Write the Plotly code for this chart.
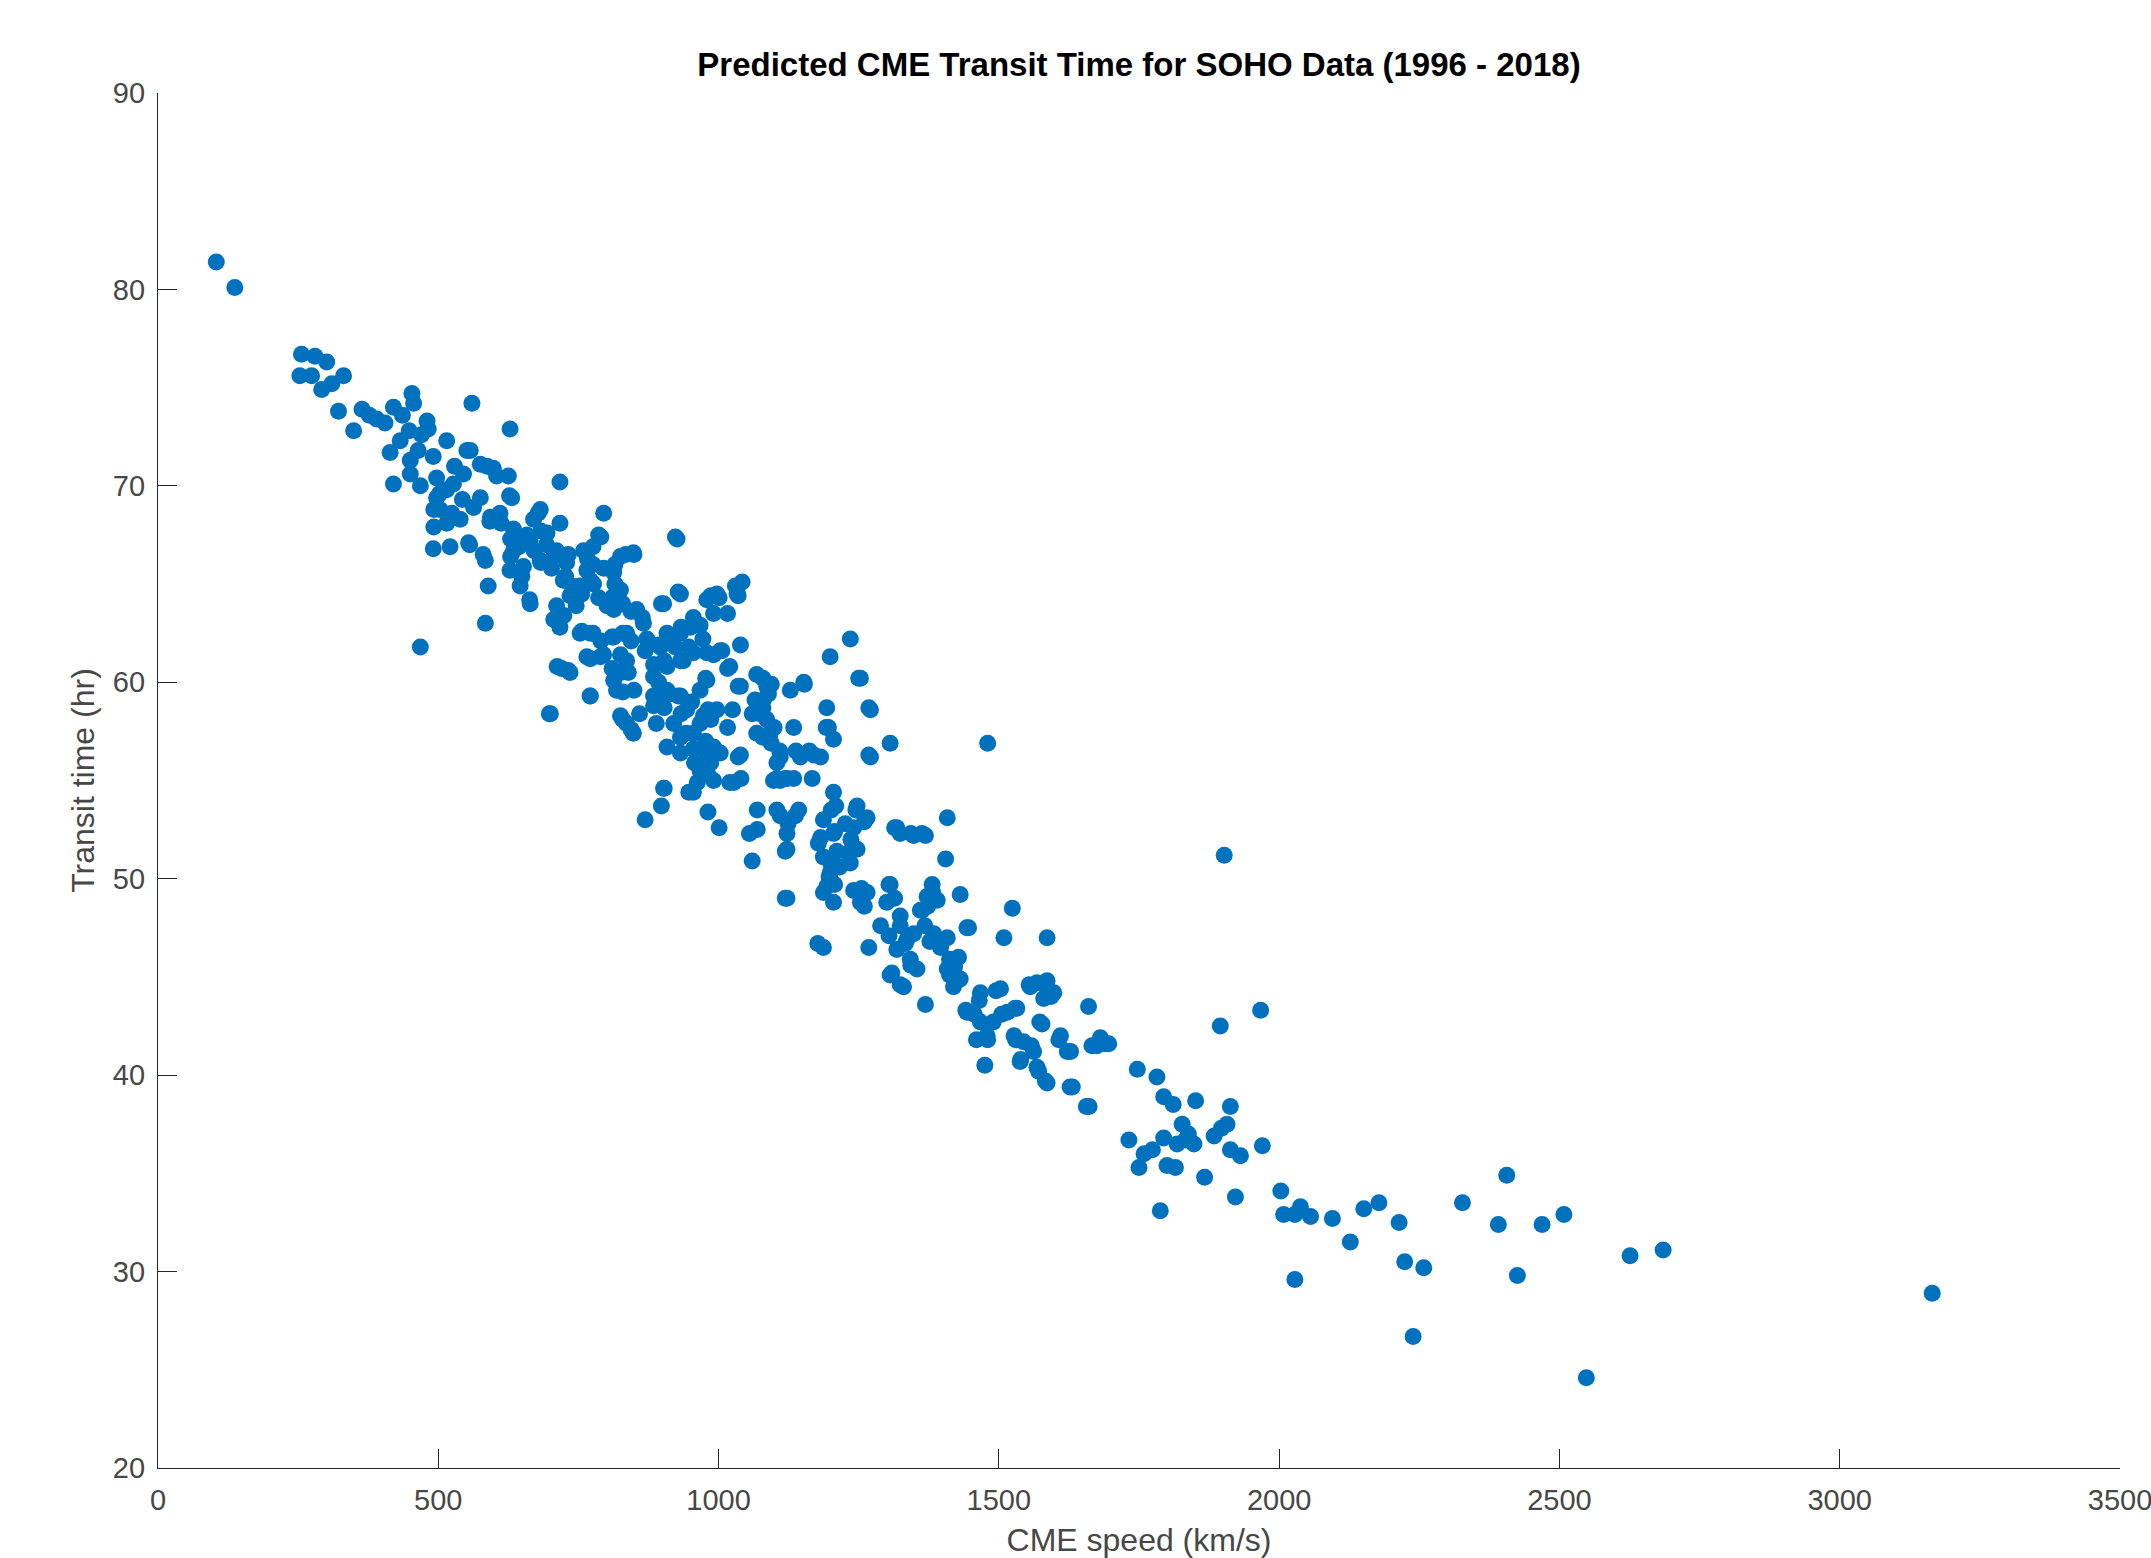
import plotly.graph_objects as go

# ---- data (CME speed km/s, transit time hr) ----
speed_g1 = [104, 137, 256, 280, 301, 253, 274, 292, 331, 322,
            349, 364, 390, 420, 453, 456, 480, 482, 414, 432,
            450, 464, 491, 420, 450, 468, 497, 497, 468, 436,
            405, 377, 310, 448, 470]
time_g1 = [81.4, 80.1, 76.7, 76.6, 76.3, 75.6, 75.6, 74.9, 75.6, 73.8,
           72.8, 73.9, 73.4, 74.0, 74.7, 74.2, 73.3, 72.9, 71.7, 72.3,
           71.3, 71.8, 71.5, 70.1, 70.6, 70.0, 70.4, 69.4, 61.8, 73.6,
           73.2, 73.6, 75.2, 72.8, 72.6]

speed_g2 = [515, 557, 560, 628, 515, 527, 545, 575, 598, 625,
            587, 631, 503, 515, 539, 563, 593, 610, 491, 521,
            554, 584, 634, 682, 670, 717, 640, 634, 664, 694,
            628, 652, 682, 589, 584, 646, 664, 551, 529, 604,
            502, 492, 524, 543, 575, 492, 556, 580, 592, 612,
            627, 629, 644, 629, 663, 649, 678, 683, 693, 658,
            671, 683, 698]
time_g2 = [72.3, 71.8, 74.2, 72.9, 69.8, 70.1, 70.6, 71.1, 70.9, 70.5,
           71.0, 69.4, 68.8, 68.1, 68.3, 68.9, 68.4, 68.6, 66.8, 66.9,
           67.1, 66.2, 67.8, 68.8, 68.3, 68.1, 67.4, 66.7, 67.2, 67.6,
           65.7, 65.9, 66.2, 64.9, 63.0, 64.9, 64.0, 71.8, 71.0, 70.5,
           69.6, 68.8, 68.6, 69.3, 69.4, 67.9, 67.0, 66.5, 68.2, 68.1,
           69.5, 67.3, 66.9, 66.4, 64.2, 65.4, 68.6, 67.7, 67.0, 67.5,
           66.7, 66.1, 58.4]

speed_g3 = [717, 706, 711, 729, 711, 706, 717, 735, 723, 759,
            765, 753, 795, 786, 825, 848, 813, 777, 825, 801,
            813, 753, 771, 789, 771, 813, 836, 854, 866, 872,
            720, 735, 765, 771, 712, 732, 790, 732, 727, 739,
            724, 746, 756, 771, 766, 776, 776, 795, 815, 834,
            849, 815, 810, 786, 829, 844, 756, 776, 790, 810,
            829, 844, 795, 825, 839, 810, 849, 829, 829, 844,
            859, 869, 869, 884, 864, 898, 836, 848, 825, 818,
            813, 825, 836, 884, 896, 884, 896, 702, 700, 771]
time_g3 = [70.2, 66.4, 66.7, 66.1, 63.9, 63.2, 62.8, 64.4, 65.2, 66.7,
           65.7, 64.9, 68.6, 67.5, 66.4, 66.6, 65.6, 65.0, 64.7, 63.9,
           63.7, 62.5, 62.5, 61.3, 61.2, 62.3, 62.5, 63.7, 63.0, 62.2,
           60.7, 60.5, 61.3, 59.3, 60.8, 60.6, 67.4, 66.5, 65.4, 64.9,
           63.4, 63.9, 64.5, 65.2, 66.3, 66.9, 66.0, 65.8, 66.0, 66.5,
           66.5, 65.0, 64.3, 64.3, 64.0, 63.6, 62.6, 62.5, 62.1, 62.3,
           62.5, 62.1, 61.4, 61.4, 60.5, 60.7, 59.6, 59.5, 58.1, 57.6,
           58.4, 53.0, 61.6, 60.9, 63.3, 64.0, 57.9, 57.4, 58.3, 59.6,
           60.1, 60.5, 61.1, 60.3, 59.4, 58.8, 61.8, 65.8, 58.4, 59.3]

speed_g4 = [926, 902, 932, 955, 979, 997, 991, 1033, 1042, 1039,
            908, 932, 950, 932, 908, 908, 932, 943, 920, 932,
            955, 908, 932, 955, 979, 1003, 1039, 967, 991, 1027,
            955, 902, 898, 1039, 979, 997, 973, 1020, 1003, 979,
            955, 1068, 1086, 1080, 1074, 1086, 1068, 1092, 1098, 1060,
            1055, 1069, 1069, 1001, 981, 947, 913, 903, 928, 952,
            889, 933, 942, 967, 986, 1001, 972, 991, 1006, 977,
            967, 981, 986, 967, 977, 991, 957, 972, 986, 962,
            981, 1016, 1035, 1025, 1016, 1035, 1020, 1040, 1030, 1035,
            923, 928, 933, 908, 893, 903, 923, 937, 947, 893,
            884, 903, 1016]
time_g4 = [67.3, 64.0, 64.5, 63.3, 64.2, 64.5, 63.5, 64.5, 65.1, 61.9,
           62.0, 62.5, 62.8, 61.1, 60.8, 59.6, 59.3, 58.6, 57.9, 57.2,
           57.4, 56.7, 56.4, 56.6, 56.4, 56.4, 56.3, 55.5, 55.0, 54.9,
           54.4, 54.6, 53.7, 59.8, 60.1, 58.6, 58.3, 60.8, 61.6, 61.5,
           61.5, 60.4, 59.8, 59.1, 58.4, 58.1, 57.4, 57.4, 55.0, 50.9,
           52.3, 52.5, 53.5, 52.6, 53.4, 54.4, 59.4, 58.7, 59.3, 59.0,
           57.9, 58.4, 57.4, 62.9, 64.4, 64.3, 62.2, 61.4, 61.6, 60.2,
           59.6, 58.6, 58.1, 57.9, 57.0, 56.7, 55.9, 55.8, 55.9, 54.9,
           55.3, 60.7, 59.8, 58.6, 57.7, 56.2, 54.9, 55.1, 64.9, 64.4,
           67.4, 64.6, 62.8, 62.5, 61.9, 61.1, 61.8, 61.1, 61.8, 60.0,
           59.3, 54.6, 63.5]

speed_g5 = [1110, 1122, 1146, 1170, 1134, 1128, 1152, 1193, 1196, 1205,
            1205, 1235, 1199, 1253, 1268, 1268, 1271, 1306, 1271, 1134,
            1110, 1209, 1247, 1265, 1110, 1137, 1122, 1122, 1187, 1178,
            1187, 1205, 1241, 1247, 1235, 1199, 1193, 1187, 1205, 1122,
            1241, 1253, 1306, 1300, 1318, 1348, 1369, 1289, 1187, 1268,
            1177, 1197, 1211, 1216, 1226, 1236, 1245, 1231, 1260, 1255,
            1265, 1260, 1201, 1182, 1207, 1201, 1207, 1119, 1119, 1104,
            1124, 1143, 1162, 1167, 1182, 1192, 1153, 1138, 1094, 1089,
            1099, 1109, 1104, 1119, 1079, 1065, 1079, 1060, 1079, 1094,
            1250, 1104]
time_g5 = [56.2, 55.1, 56.2, 56.3, 57.7, 59.6, 60.0, 58.7, 57.7, 57.1,
           54.4, 62.2, 61.3, 60.2, 58.7, 56.3, 58.6, 56.9, 56.2, 55.1,
           55.0, 53.7, 53.7, 53.1, 53.2, 53.2, 52.3, 51.5, 53.0, 51.8,
           51.1, 52.3, 52.6, 51.5, 50.8, 50.3, 49.6, 49.3, 48.8, 49.0,
           49.4, 48.8, 49.7, 48.8, 52.6, 52.2, 52.2, 47.6, 46.5, 46.5,
           46.7, 50.1, 51.4, 50.6, 52.8, 52.0, 53.5, 51.3, 52.9, 49.5,
           49.3, 48.6, 53.5, 52.1, 52.4, 50.7, 49.7, 51.4, 49.0, 53.5,
           52.8, 53.5, 56.5, 55.1, 56.2, 57.7, 59.9, 56.5, 59.9, 59.4,
           57.7, 56.5, 55.9, 55.1, 60.2, 59.1, 58.7, 58.4, 57.2, 56.9,
           60.2, 55.1]

speed_g6 = [1324, 1336, 1318, 1342, 1354, 1306, 1330, 1384, 1408, 1396,
            1443, 1509, 1586, 1428, 1408, 1431, 1419, 1369, 1467, 1503,
            1443, 1467, 1515, 1532, 1556, 1586, 1598, 1580, 1660, 1577,
            1479, 1527, 1610, 1681, 1408, 1405, 1381, 1372, 1390, 1360,
            1431, 1524, 1314, 1324, 1343, 1363, 1304, 1314, 1324, 1304,
            1333, 1309, 1324, 1343, 1348, 1363, 1373, 1382, 1368, 1377,
            1397, 1412, 1421, 1412, 1426, 1446, 1441, 1456, 1465, 1460,
            1480, 1475, 1480, 1495, 1490, 1505, 1529, 1544, 1539, 1558,
            1554, 1568, 1583, 1593, 1573, 1568, 1583, 1607, 1622, 1627,
            1656, 1666, 1690, 1530, 1562, 1538, 1628, 1675, 1696, 1571,
            1586, 1631, 1661]
time_g6 = [47.6, 46.9, 46.4, 45.9, 45.4, 45.1, 44.5, 47.2, 47.0, 46.5,
           47.5, 47.0, 47.0, 46.0, 45.4, 44.9, 44.5, 43.6, 44.2, 44.4,
           43.2, 42.7, 43.2, 43.4, 44.5, 44.8, 44.2, 43.9, 43.5, 42.6,
           42.0, 42.0, 42.0, 41.9, 53.1, 51.0, 49.7, 49.1, 48.9, 48.4,
           49.2, 48.5, 52.6, 52.3, 52.3, 52.3, 49.7, 49.0, 48.1, 47.1,
           46.7, 45.2, 44.6, 45.6, 47.2, 48.4, 48.6, 49.3, 47.6, 46.8,
           46.7, 45.9, 45.5, 45.1, 44.8, 47.5, 43.3, 43.1, 43.8, 41.8,
           41.8, 40.5, 56.9, 44.3, 42.7, 43.1, 43.4, 41.7, 40.8, 41.5,
           44.6, 44.7, 44.6, 44.0, 42.7, 40.4, 39.7, 41.8, 41.2, 39.4,
           38.4, 41.5, 41.6, 41.8, 41.2, 40.7, 41.2, 41.5, 41.6, 40.2,
           39.6, 39.4, 38.4]

speed_g7 = [1747, 1782, 1794, 1811, 1851, 1913, 1827, 1907, 1732, 1794,
            1818, 1848, 1884, 1913, 1931, 1970, 1759, 1750, 1800, 1815,
            1867, 1922, 1788, 1895, 1967, 1902, 1833, 1838, 1774, 1897,
            2003, 2008, 2028, 2038, 2056, 2028, 2095, 2127, 2151, 2178,
            2214, 2224, 2239, 2258, 2327, 2391, 2406, 2425, 2469, 2508,
            2548, 2626, 2685, 3165]
time_g7 = [40.3, 39.9, 38.9, 38.5, 38.7, 38.4, 37.5, 37.5, 36.7, 36.8,
           36.5, 36.5, 36.9, 36.2, 35.9, 36.4, 36.0, 35.3, 35.4, 35.3,
           34.8, 33.8, 33.1, 42.5, 43.3, 51.2, 36.7, 37.0, 36.2, 37.3,
           34.1, 32.9, 32.9, 33.3, 32.8, 29.6, 32.7, 31.5, 33.2, 33.5,
           32.5, 30.5, 26.7, 30.2, 33.5, 32.4, 34.9, 29.8, 32.4, 32.9,
           24.6, 30.8, 31.1, 28.9]

x_ticks = [0, 500, 1000, 1500, 2000, 2500, 3000, 3500]
y_ticks = [20, 30, 40, 50, 60, 70, 80, 90]

title_text = "Predicted CME Transit Time for SOHO Data (1996 - 2018)"
x_label = "CME speed (km/s)"
y_label = "Transit time (hr)"

speed = []
transit = []
for sx, ty in [(speed_g1, time_g1), (speed_g2, time_g2), (speed_g3, time_g3),
               (speed_g4, time_g4), (speed_g5, time_g5), (speed_g6, time_g6),
               (speed_g7, time_g7)]:
    n = min(len(sx), len(ty))
    speed += sx[:n]
    transit += ty[:n]

MARK = "#0072BD"
AX = "#262626"
LBL = "#474747"
FONT = "Liberation Sans, Arial, Helvetica, sans-serif"

fig = go.Figure()
fig.add_trace(go.Scatter(
    x=speed, y=transit, mode="markers",
    marker=dict(symbol="circle", size=17, color=MARK, line=dict(width=0)),
    showlegend=False, hoverinfo="skip",
))

fig.update_layout(
    width=2151, height=1558, autosize=False,
    margin=dict(l=158, r=31, t=93, b=90, pad=0, autoexpand=False),
    paper_bgcolor="white", plot_bgcolor="white",
    font=dict(family=FONT, color=AX),
    title=dict(text="<b>" + title_text + "</b>", x=0.5, xanchor="center",
               xref="paper", y=1 - 64 / 1558, yref="container", yanchor="middle",
               font=dict(size=33, color="#000000", family=FONT)),
)
fig.update_xaxes(
    range=[0, 3500], tickmode="array", tickvals=x_ticks,
    ticktext=[str(v) for v in x_ticks], automargin=False,
    ticks="inside", ticklen=19, tickwidth=1.3, tickcolor=AX,
    showline=True, linecolor=AX, linewidth=1.3, mirror=False,
    showgrid=False, zeroline=False, ticklabeloverflow="allow",
    ticklabelstandoff=6,
    tickfont=dict(size=29, color=LBL, family=FONT),
    title=dict(text=x_label, font=dict(size=32, color=LBL, family=FONT), standoff=16),
)
fig.update_yaxes(
    range=[20, 90], tickmode="array", tickvals=y_ticks,
    ticktext=[str(v) for v in y_ticks], automargin=False,
    ticks="inside", ticklen=19, tickwidth=1.3, tickcolor=AX,
    showline=True, linecolor=AX, linewidth=1.3, mirror=False,
    showgrid=False, zeroline=False, ticklabeloverflow="allow",
    ticklabelstandoff=6,
    tickfont=dict(size=29, color=LBL, family=FONT),
    title=dict(text=y_label, font=dict(size=32, color=LBL, family=FONT), standoff=8),
)

fig.write_html("out.html")
